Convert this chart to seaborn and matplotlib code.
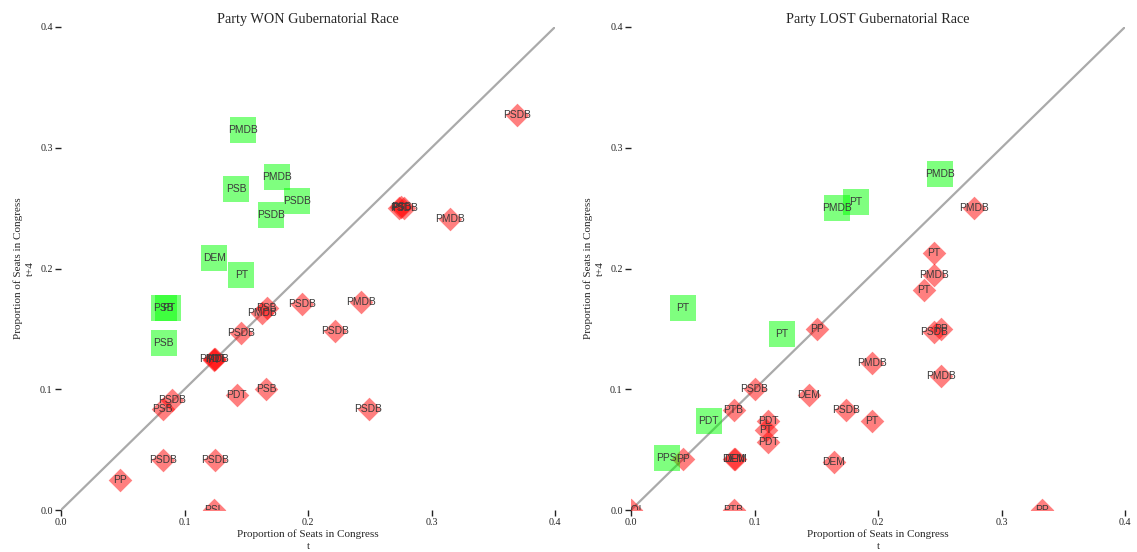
import numpy as np
import pandas as pd
import matplotlib
matplotlib.use("Agg")
import matplotlib.pyplot as plt
import seaborn as sns

# ---------------- data ----------------
# Panel 1: party WON gubernatorial race
won_gain_party = ["PMDB", "PMDB", "PSB", "PSDB", "PSDB", "DEM", "PT", "PSB", "PT", "PSB"]
won_gain_t = [0.147, 0.175, 0.142, 0.191, 0.170, 0.124, 0.146, 0.083, 0.087, 0.083]
won_gain_t4 = [0.315, 0.276, 0.266, 0.256, 0.244, 0.209, 0.195, 0.167, 0.167, 0.138]

won_loss_party = ["PSDB", "PT", "PSB", "PSDB", "PMDB", "PMDB", "PSDB", "PSDB", "PSDB",
                  "PSB", "PMDB", "PSDB", "PMDB", "PDT", "PT", "PDT", "PSB", "PSDB",
                  "PSB", "PSDB", "PSDB", "PP", "PSL"]
won_loss_t = [0.369, 0.2735, 0.2755, 0.2775, 0.315, 0.243, 0.222, 0.249, 0.195,
              0.1664, 0.1628, 0.1457, 0.1235, 0.125, 0.124, 0.1423, 0.166, 0.0899,
              0.0823, 0.0823, 0.125, 0.048, 0.124]
won_loss_t4 = [0.327, 0.250, 0.251, 0.250, 0.241, 0.172, 0.148, 0.0836, 0.171,
               0.1675, 0.1635, 0.1466, 0.125, 0.125, 0.124, 0.0955, 0.100, 0.091,
               0.0833, 0.0417, 0.0417, 0.0246, 0.0]

# Panel 2: party LOST gubernatorial race
lost_gain_party = ["PMDB", "PMDB", "PT", "PT", "PT", "PDT", "PPS"]
lost_gain_t = [0.250, 0.167, 0.182, 0.042, 0.122, 0.063, 0.029]
lost_gain_t4 = [0.278, 0.250, 0.255, 0.167, 0.146, 0.074, 0.043]

lost_loss_party = ["PMDB", "PT", "PMDB", "PT", "PP", "PSDB", "PP", "PMDB", "PMDB",
                   "PSDB", "DEM", "PTB", "PSDB", "PT", "PDT", "PT", "PDT", "PP",
                   "DEM", "DEM", "DEM", "PTB", "PSOL", "PP"]
lost_loss_t = [0.278, 0.245, 0.245, 0.237, 0.251, 0.245, 0.151, 0.195, 0.251,
               0.100, 0.144, 0.083, 0.174, 0.195, 0.111, 0.109, 0.111, 0.042,
               0.083, 0.0845, 0.164, 0.083, 0.0, 0.333]
lost_loss_t4 = [0.250, 0.213, 0.195, 0.182, 0.150, 0.147, 0.150, 0.122, 0.111,
                0.100, 0.095, 0.083, 0.083, 0.074, 0.074, 0.066, 0.056, 0.042,
                0.042, 0.042, 0.040, 0.0, 0.0, 0.0]

titles = ["Party WON Gubernatorial Race", "Party LOST Gubernatorial Race"]
xlabel = "Proportion of Seats in Congress\nt"
ylabel = "Proportion of Seats in Congress\nt+4"
ticks = [0.0, 0.1, 0.2, 0.3, 0.4]

# ---------------- style ----------------
sns.set_theme(style="white")
plt.rcParams["font.family"] = ["Liberation Serif", "DejaVu Serif"]

fig = plt.figure(figsize=(11.37, 5.52), dpi=100)
ax1 = fig.add_axes([61 / 1137, 1 - 510 / 552, 494 / 1137, 483 / 552])
ax2 = fig.add_axes([631 / 1137, 1 - 510 / 552, 494 / 1137, 483 / 552])

panels = [
    (ax1, titles[0], won_gain_party, won_gain_t, won_gain_t4,
     won_loss_party, won_loss_t, won_loss_t4),
    (ax2, titles[1], lost_gain_party, lost_gain_t, lost_gain_t4,
     lost_loss_party, lost_loss_t, lost_loss_t4),
]

for ax, title, gp, gt, gt4, lp, lt, lt4 in panels:
    gain = pd.DataFrame({"party": gp, "t": gt, "t4": gt4})
    loss = pd.DataFrame({"party": lp, "t": lt, "t4": lt4})

    ax.plot([0, 0.4], [0, 0.4], color="#aaaaaa", lw=1.6, zorder=1)

    sns.scatterplot(data=loss, x="t", y="t4", ax=ax, marker="D", s=145,
                    color="#FF0000", alpha=0.5, linewidth=0, zorder=2)
    sns.scatterplot(data=gain, x="t", y="t4", ax=ax, marker="s", s=330,
                    color="#00FF00", alpha=0.5, linewidth=0, zorder=3)

    for df in (loss, gain):
        for _, r in df.iterrows():
            ax.text(r["t"], r["t4"], r["party"], ha="center", va="center",
                    fontsize=7.4, color="#3a3a3a", family=["Liberation Sans"],
                    zorder=4, clip_on=True)

    ax.set_xlim(0, 0.4)
    ax.set_ylim(0, 0.4)
    ax.set_xticks(ticks)
    ax.set_yticks(ticks)
    ax.set_xticklabels([f"{v:.1f}" for v in ticks])
    ax.set_yticklabels([f"{v:.1f}" for v in ticks])
    for s in ax.spines.values():
        s.set_visible(False)
    ax.tick_params(axis="both", which="major", length=4, width=1.0,
                   color="#222222", labelsize=7.2, labelcolor="#222222",
                   direction="out", left=True, bottom=True, pad=2)
    ax.set_xlabel(xlabel, fontsize=8, labelpad=1.5, linespacing=1.35)
    ax.set_ylabel(ylabel, fontsize=8, labelpad=4, linespacing=1.35)
    ax.set_title(title, fontsize=10.3, pad=3)
    ax.grid(False)

fig.savefig("out.png", dpi=100, facecolor="white")
